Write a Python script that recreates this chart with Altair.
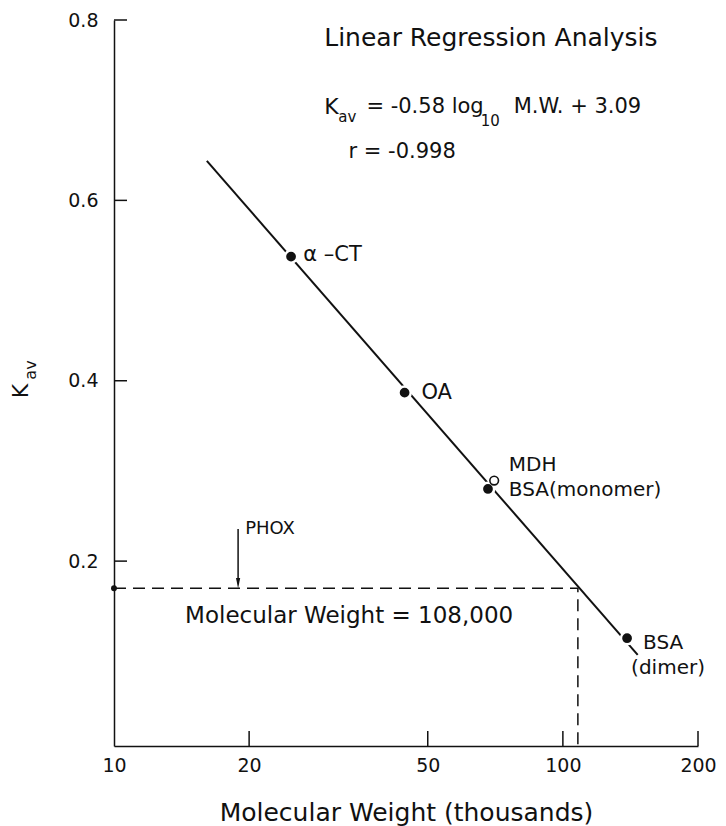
import altair as alt
import pandas as pd

FONT = "DejaVu Sans"

# --- data ---
pt_name = ["α-CT", "OA", "BSA(monomer)", "BSA(dimer)"]
pt_mw = [24.8, 44.4, 68.1, 139.0]
pt_kav = [0.5376, 0.3868, 0.280, 0.1145]

mdh_mw = [70.3]
mdh_kav = [0.2893]

fit_mw = [16.1, 146.8]
fit_kav = [0.6437, 0.096]

phox_mw = [10, 108, 108]
phox_kav = [0.170, 0.170, -0.005]

arrow_mw = [18.9, 18.9]
arrow_kav = [0.2357, 0.178]
arrow_head_kav = [0.1755]

x_ticks = [10, 20, 50, 100, 200]
y_ticks = [0.2, 0.4, 0.6, 0.8]

ann_text = ["Linear Regression Analysis", "K", "av", "= -0.58 log", "10", "M.W. + 3.09",
            "r = -0.998", "α –CT", "OA", "MDH", "BSA(monomer)", "BSA", "(dimer)", "PHOX",
            "Molecular Weight = 108,000"]
ann_mw = [29.4, 29.4, 31.6, 36.5, 65.6, 77.7,
          33.3, 26.4, 48.4, 75.8, 75.8, 150.9, 141.9, 19.6,
          14.4]
ann_kav = [0.780, 0.703, 0.6925, 0.703, 0.688, 0.703,
           0.6537, 0.5395, 0.3868, 0.3067, 0.2789, 0.1093, 0.0816, 0.2357,
           0.1392]
ann_size = [25, 22, 15, 21, 15, 21,
            21, 21, 21, 20, 20, 20, 20, 18,
            23]

xs = alt.Scale(type="log", domain=[10, 200])
ys = alt.Scale(domain=[-0.005, 0.8])

fit_df = pd.DataFrame({"mw": fit_mw, "kav": fit_kav})
pts_df = pd.DataFrame({"name": pt_name, "mw": pt_mw, "kav": pt_kav})
mdh_df = pd.DataFrame({"mw": mdh_mw, "kav": mdh_kav})
phox_df = pd.DataFrame({"mw": phox_mw, "kav": phox_kav, "o": [0, 1, 2]})
arrow_df = pd.DataFrame({"mw": arrow_mw, "kav": arrow_kav})
head_df = pd.DataFrame({"mw": arrow_mw[:1], "kav": arrow_head_kav})
dot_df = pd.DataFrame({"mw": phox_mw[:1], "kav": phox_kav[:1]})
ann_df = pd.DataFrame({"t": ann_text, "mw": ann_mw, "kav": ann_kav, "fs": ann_size})
xt_df = pd.DataFrame({"mw": x_ticks[1:]})
yt_df = pd.DataFrame({"kav": y_ticks})

axis_common = dict(grid=False, labelFont=FONT, labelColor="#111", titleFont=FONT,
                   titleColor="#111", domainColor="#111", domainWidth=1.5)

x_axis = alt.Axis(
    values=x_ticks, format="d", ticks=False, labelFontSize=19, labelPadding=10,
    labelFlush=False, labelOverlap=False, title="Molecular Weight (thousands)",
    titleFontSize=25, titleFontWeight="normal", titlePadding=25, orient="bottom",
    **axis_common)
y_axis = alt.Axis(
    values=y_ticks, format=".1f", ticks=False, labelFontSize=19, labelPadding=16,
    labelOverlap=False, labelFlush=False, title=None, orient="left", **axis_common)

X = lambda: alt.X("mw:Q", scale=xs, axis=x_axis)
Y = lambda: alt.Y("kav:Q", scale=ys, axis=y_axis)

fit = alt.Chart(fit_df).mark_line(color="#111", strokeWidth=2).encode(x=X(), y=Y())

# inward-pointing tick marks
xt = alt.Chart(xt_df).mark_rule(color="#111", strokeWidth=1.5).encode(
    x=X(), y=alt.value(726), y2=alt.value(711))
yt = alt.Chart(yt_df).mark_rule(color="#111", strokeWidth=1.5).encode(
    y=Y(), x=alt.value(0), x2=alt.value(13))

pts = alt.Chart(pts_df).mark_point(filled=True, shape="circle", size=150, fill="#111",
                                   stroke="white", strokeWidth=2.5, opacity=1).encode(
    x=X(), y=Y())

mdh = alt.Chart(mdh_df).mark_point(shape="circle", size=75, fill="white", stroke="#111",
                                   strokeWidth=1.6, opacity=1).encode(x=X(), y=Y())

phox = alt.Chart(phox_df).mark_line(color="#111", strokeWidth=1.5, strokeDash=[12, 7]).encode(
    x=X(), y=Y(), order="o:Q")

dot = alt.Chart(dot_df).mark_point(filled=True, shape="circle", size=35, fill="#111",
                                   opacity=1).encode(x=X(), y=Y())

arrow = alt.Chart(arrow_df).mark_line(color="#111", strokeWidth=1.5).encode(x=X(), y=Y())
head = alt.Chart(head_df).mark_point(filled=True, shape="M -0.4 -1 L 0.4 -1 L 0 1 Z",
                                     size=110, fill="#111", opacity=1).encode(x=X(), y=Y())

ann = alt.Chart(ann_df).mark_text(align="left", baseline="middle", font=FONT,
                                  color="#111").encode(
    x=X(), y=Y(), text="t:N", size=alt.Size("fs:Q", scale=None, legend=None))

ytitle_k = alt.Chart(pd.DataFrame({"t": ["K"]})).mark_text(
    angle=270, align="center", baseline="middle", font=FONT, fontSize=22, color="#111").encode(
    text="t:N", x=alt.value(-93), y=alt.value(371))
ytitle_av = alt.Chart(pd.DataFrame({"t": ["av"]})).mark_text(
    angle=270, align="center", baseline="middle", font=FONT, fontSize=16, color="#111").encode(
    text="t:N", x=alt.value(-83), y=alt.value(350))

chart = alt.layer(fit, xt, yt, phox, dot, arrow, head, pts, mdh, ann, ytitle_k, ytitle_av).properties(
    width=584, height=726,
    autosize=alt.AutoSizeParams(type="none"),
    padding={"left": 114, "top": 20, "right": 28, "bottom": 80},
    background="white",
).configure_view(stroke=None)

chart.save("out.html", embed_options={"renderer": "svg", "actions": False})
